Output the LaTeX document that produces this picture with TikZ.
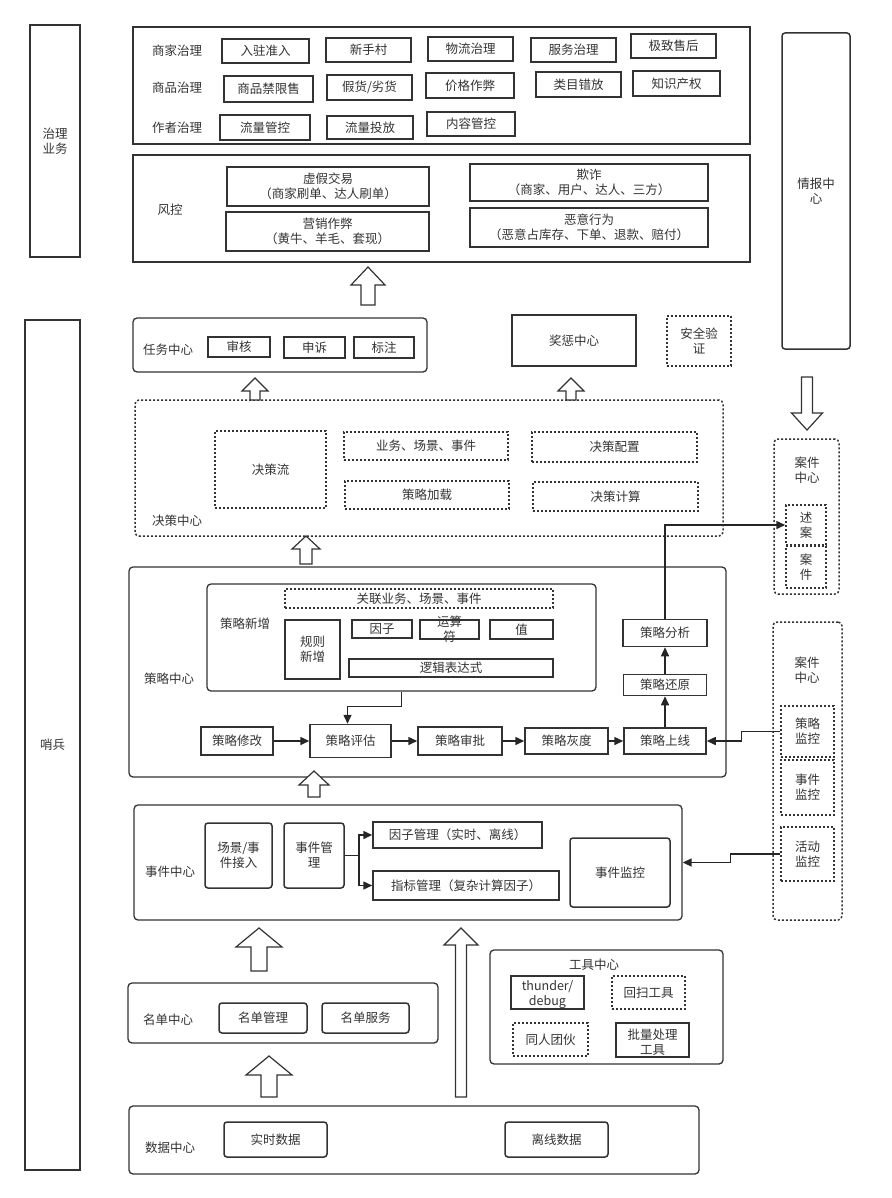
\documentclass[tikz,border=0pt]{standalone}
\usepackage{fontspec}
\setmainfont{Noto Sans CJK SC}
\usetikzlibrary{arrows.meta}

\tikzset{
    txt/.style={text=black!80, font=\fontsize{12.5}{15}\selectfont, align=center, inner sep=0pt},
    box/.style={txt, draw=black!80, line width=1.5pt},
    rbox/.style={box, rounded corners=3pt},
    dbox/.style={box, dash pattern=on 2pt off 2pt},
    panel/.style={draw=black!80, line width=1.3pt, inner sep=0pt},
    dpanel/.style={panel, dash pattern=on 2pt off 2pt, line width=1.5pt, rounded corners=4pt},
    hollow/.style={draw=black!80, line width=1.2pt, fill=white, line join=miter},
    flow/.style={draw=black!85, line width=1.5pt, -{Triangle[length=9pt,width=8pt]}},
}
% cx, tip, head base, end, head half width, shaft half width
\newcommand{\blockarrow}[6]{%
    \draw[hollow] (#1,#2) -- ({#1+#5},#3) -- ({#1+#6},#3) -- ({#1+#6},#4)
        -- ({#1-#6},#4) -- ({#1-#6},#3) -- ({#1-#5},#3) -- cycle;}

\begin{document}
\begin{tikzpicture}[x=1pt, y=-1pt]
    \useasboundingbox (0,0) rectangle (891,1198);

    % side columns
    \node[box, minimum width=50, minimum height=232] (zhili) at (55,141) {治理\\业务};
    \node[box, minimum width=55, minimum height=850] (shaobing) at (52.5,745) {哨兵};
    \node[rbox, minimum width=68, minimum height=316] (qingbao) at (816,191) {情报中\\心};

    % governance
    \node[panel, minimum width=617, minimum height=117] (govbiz) at (441.5,85.5) {};
    \node[txt] (shangjia) at (177,51) {商家治理};
    \node[txt] (shangpin) at (177,88) {商品治理};
    \node[txt] (zuozhe) at (177,128) {作者治理};
    \node[box, minimum width=87, minimum height=24] (ruzhu) at (265.5,51) {入驻准入};
    \node[box, minimum width=85, minimum height=24] (xinshou) at (368.5,50) {新手村};
    \node[box, minimum width=85, minimum height=24] (wuliu) at (470.5,49) {物流治理};
    \node[box, minimum width=85, minimum height=24] (fuwu) at (573.5,50) {服务治理};
    \node[box, minimum width=85, minimum height=24] (shouhou) at (673.5,46) {极致售后};
    \node[box, minimum width=89, minimum height=26] (jinxian) at (268.5,89) {商品禁限售};
    \node[box, minimum width=85, minimum height=25] (jiahuo) at (369.5,87.5) {假货/劣货};
    \node[box, minimum width=88, minimum height=25] (jiage) at (470,85.5) {价格作弊};
    \node[box, minimum width=85, minimum height=25] (leimu) at (578.5,84.5) {类目错放};
    \node[box, minimum width=87, minimum height=25] (zhishi) at (676.5,83.5) {知识产权};
    \node[box, minimum width=90, minimum height=25] (guankong) at (265,127.5) {流量管控};
    \node[box, minimum width=86, minimum height=23] (toufang) at (370,127.5) {流量投放};
    \node[box, minimum width=88, minimum height=24] (neirong) at (471,124) {内容管控};

    % risk control
    \node[panel, minimum width=617, minimum height=107] (fengkong) at (441.5,208.5) {};
    \node[txt] (fengkonglbl) at (170,210) {风控};
    \node[box, minimum width=202, minimum height=39] (xujia) at (328,186.5) {虚假交易\\（商家刷单、达人刷单）};
    \node[box, minimum width=203, minimum height=39] (yingxiao) at (327.5,231.5) {营销作弊\\（黄牛、羊毛、套现）};
    \node[box, minimum width=238, minimum height=37] (qizha) at (589,182.5) {欺诈\\（商家、用户、达人、三方）};
    \node[box, minimum width=238, minimum height=39] (eyi) at (589,227.5) {恶意行为\\（恶意占库存、下单、退款、赔付）};

    % task / reward
    \node[panel, rounded corners=4pt, minimum width=294, minimum height=54] (renwu) at (280,345) {};
    \node[txt] (renwulbl) at (168,350) {任务中心};
    \node[box, minimum width=62, minimum height=20] (shenhe) at (239,347) {审核};
    \node[box, minimum width=61, minimum height=21] (shensu) at (314.5,347.5) {申诉};
    \node[box, minimum width=60, minimum height=21] (biaozhu) at (384,347.5) {标注};
    \node[box, minimum width=124, minimum height=51] (jiangcheng) at (574,340.5) {奖惩中心};
    \node[dbox, minimum width=64, minimum height=50] (anquan) at (699,341) {安全验\\证};

    % decision center
    \node[dpanel, minimum width=588, minimum height=136] (juece) at (429,468) {};
    \node[txt] (juecelbl) at (177,521) {决策中心};
    \node[dbox, minimum width=111, minimum height=77] (jueceliu) at (270.5,469.5) {决策流};
    \node[dbox, minimum width=164, minimum height=28] (yewu) at (426,446) {业务、场景、事件};
    \node[dbox, minimum width=165, minimum height=30] (peizhi) at (614.5,447) {决策配置};
    \node[dbox, minimum width=164, minimum height=28] (jiazai) at (427,495) {策略加载};
    \node[dbox, minimum width=165, minimum height=29] (jisuan) at (615.5,496.5) {决策计算};

    % case centers
    \node[dpanel, minimum width=65, minimum height=155] (anjian) at (806.5,516.5) {};
    \node[txt] (anjianlbl) at (807,470) {案件\\中心};
    \node[dbox, minimum width=40, minimum height=40] (shuan) at (806,525) {述\\案};
    \node[dbox, minimum width=40, minimum height=42] (anjiansub) at (806,567) {案\\件};
    \node[dpanel, minimum width=69, minimum height=298] (jiankong) at (807.5,771) {};
    \node[txt] (jiankonglbl) at (807,670) {案件\\中心};
    \node[dbox, minimum width=53, minimum height=51] (celuejk) at (807.5,731.5) {策略\\监控};
    \node[dbox, minimum width=53, minimum height=55] (shijianjk) at (807.5,787.5) {事件\\监控};
    \node[dbox, minimum width=53, minimum height=54] (huodongjk) at (807.5,854) {活动\\监控};

    % strategy center
    \node[panel, rounded corners=4pt, minimum width=597, minimum height=210] (celue) at (427.5,672) {};
    \node[txt] (celuelbl) at (169,679) {策略中心};
    \node[panel, rounded corners=4pt, minimum width=389, minimum height=107] (xinzeng) at (401.5,637.5) {};
    \node[txt] (xinzenglbl) at (245,624) {策略新增};
    \node[dbox, minimum width=268, minimum height=19] (guanlian) at (419,598.5) {关联业务、场景、事件};
    \node[box, minimum width=55, minimum height=59] (guize) at (312.5,649.5) {规则\\新增};
    \node[box, minimum width=60, minimum height=18] (yinzi) at (382,629) {因子};
    \node[box, minimum width=59, minimum height=19] (yunsuan) at (449.5,629.5) {};
    \node[txt] at (yunsuan) {运算\\符};
    \node[box, minimum width=63, minimum height=19] (zhi) at (521.5,629.5) {值};
    \node[box, minimum width=204, minimum height=18] (luoji) at (451,668) {逻辑表达式};
    \node[box, minimum width=72, minimum height=28] (xiugai) at (237,741) {策略修改};
    \node[box, minimum width=81, minimum height=33] (pinggu) at (350.5,741) {策略评估};
    \node[box, minimum width=84, minimum height=28] (shenpi) at (460,741) {策略审批};
    \node[box, minimum width=83, minimum height=26] (huidu) at (566.5,741) {策略灰度};
    \node[box, minimum width=82, minimum height=26] (shangxian) at (665,741) {策略上线};
    \node[box, minimum width=83, minimum height=21] (huanyuan) at (665,685) {策略还原};
    \node[box, minimum width=84, minimum height=27] (fenxi) at (665,633) {策略分析};

    % event center
    \node[panel, rounded corners=4pt, minimum width=548, minimum height=115] (shijian) at (408,862.5) {};
    \node[txt] (shijianlbl) at (170,872) {事件中心};
    \node[rbox, minimum width=67, minimum height=65] (jieru) at (238.5,855.5) {场景/事\\件接入};
    \node[rbox, minimum width=60, minimum height=65] (guanli) at (314,855.5) {事件管\\理};
    \node[box, minimum width=169, minimum height=26] (yinzigl) at (457.5,835) {因子管理（实时、离线）};
    \node[box, minimum width=186, minimum height=29] (zhibiao) at (466,885.5) {指标管理（复杂计算因子）};
    \node[rbox, minimum width=100, minimum height=69] (shijianjkc) at (620,872.5) {事件监控};

    % tools
    \node[panel, rounded corners=4pt, minimum width=233, minimum height=114] (gongju) at (606.5,1007) {};
    \node[txt] (gongjulbl) at (594,965) {工具中心};
    \node[box, minimum width=73, minimum height=33] (thunder) at (547.5,992.5) {};
    \node[txt] at (547.5,995) {thunder/\\debug};
    \node[dbox, minimum width=73, minimum height=33] (huisao) at (648.5,992.5) {回扫工具};
    \node[dbox, minimum width=75, minimum height=33] (tuanhuo) at (550.5,1039.5) {同人团伙};
    \node[box, minimum width=73, minimum height=34] (piliang) at (652.5,1040) {};
    \node[txt] at (652.5,1042) {批量处理\\工具};

    % list and data
    \node[panel, rounded corners=4pt, minimum width=310, minimum height=60] (mingdan) at (283,1013) {};
    \node[txt] (mingdanlbl) at (168,1020) {名单中心};
    \node[rbox, minimum width=88, minimum height=30] (mdguanli) at (263,1018) {名单管理};
    \node[rbox, minimum width=87, minimum height=30] (mdfuwu) at (365.5,1018) {名单服务};
    \node[panel, rounded corners=4pt, minimum width=570, minimum height=68] (shuju) at (414,1140) {};
    \node[txt] (shujulbl) at (170,1148) {数据中心};
    \node[rbox, minimum width=103, minimum height=35] (shishi) at (275.5,1139.5) {实时数据};
    \node[rbox, minimum width=103, minimum height=35] (lixian) at (556.5,1139.5) {离线数据};

    % connectors
    \draw[flow] (xiugai) -- (pinggu);
    \draw[flow] (pinggu) -- (shenpi);
    \draw[flow] (shenpi) -- (huidu);
    \draw[flow] (huidu) -- (shangxian);
    \draw[flow] (shangxian) -- (huanyuan);
    \draw[flow] (huanyuan) -- (fenxi);
    \draw[flow] (fenxi.north) |- (shuan.west);
    \draw[flow] (xinzeng.south) -- ++(0,15) -| ([xshift=-3pt]pinggu.north);
    \draw[flow] (celuejk.west) -- ++(-39,0) |- (shangxian.east);
    \draw[flow] (huodongjk.west) -- ++(-50,0) |- (shijian.east);
    \draw[line width=1.5pt, black!85] (guanli.east) -- ++(14,0) coordinate (fork);
    \draw[flow] (fork) |- (yinzigl.west);
    \draw[flow] (fork) |- (zhibiao.west);

    % block arrows
    \blockarrow{368}{267}{285}{305}{17}{7}
    \blockarrow{255}{378}{391}{400}{13}{5}
    \blockarrow{571}{378}{391}{400}{13}{5}
    \blockarrow{306}{536}{549}{564}{14}{6}
    \blockarrow{314}{771}{785}{797}{15}{6}
    \blockarrow{259}{928}{947}{971}{23}{8}
    \blockarrow{461}{928}{945}{1097}{17}{5.5}
    \blockarrow{269}{1056}{1075}{1097}{23}{8}
    \blockarrow{807}{430}{413}{377}{15.5}{5.5}
\end{tikzpicture}
\end{document}
